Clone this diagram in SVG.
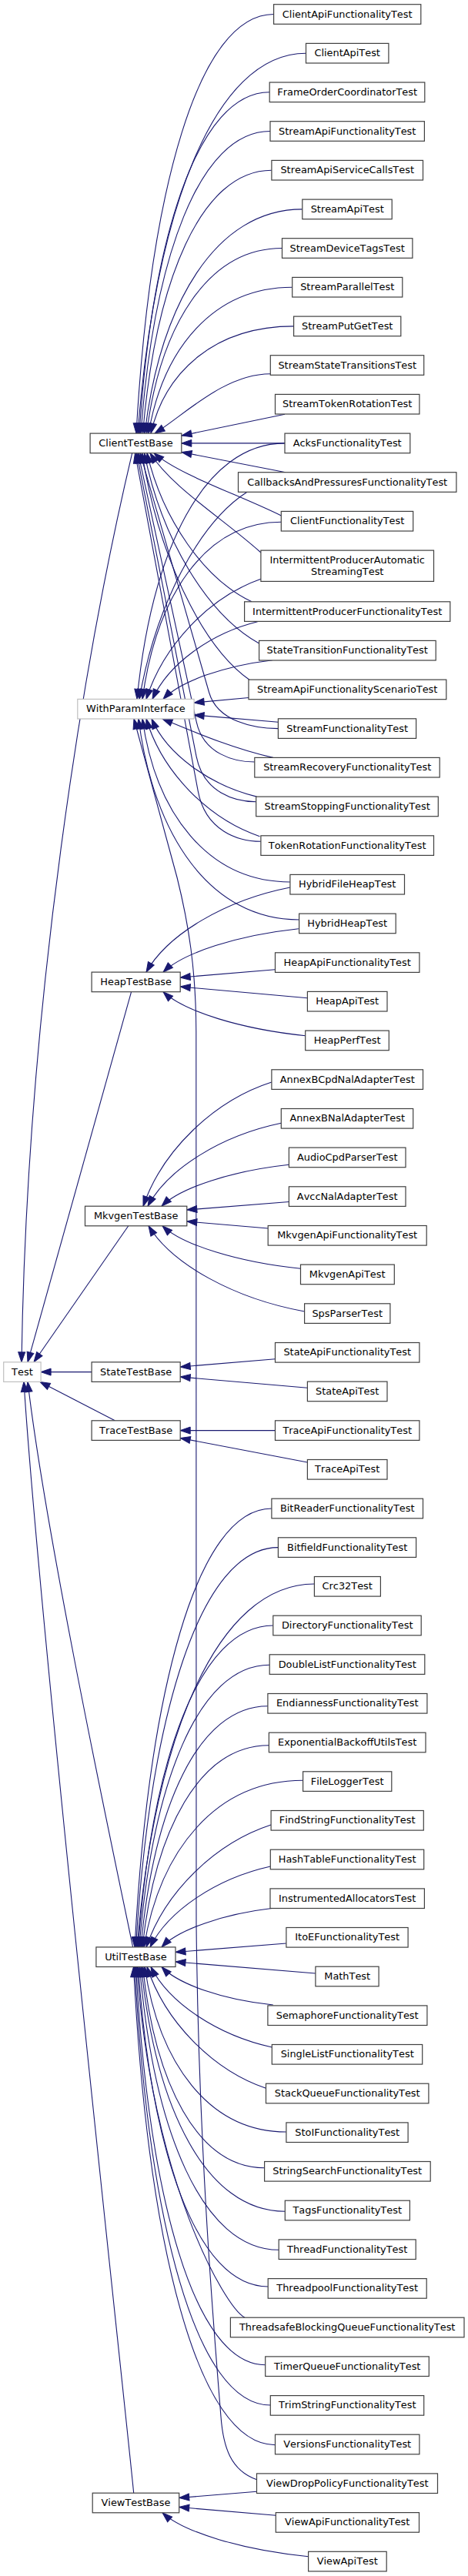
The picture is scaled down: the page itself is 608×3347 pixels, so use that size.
<svg xmlns="http://www.w3.org/2000/svg" width="608" height="3347" viewBox="0 0 608 3347">
<style>
.n rect{fill:#fff;stroke:#404040;stroke-width:1.2}
.g rect{fill:#fff;stroke:#bfbfbf;stroke-width:1.2}
text{font-family:"DejaVu Sans","Liberation Sans",sans-serif;font-size:12.9px;text-anchor:middle;fill:#000;font-kerning:none}
#edges path{fill:none;stroke:#191970;stroke-width:1.1;marker-end:url(#a)}
</style>
<defs>
<marker id="a" markerUnits="userSpaceOnUse" markerWidth="16" markerHeight="12" refX="13" refY="4.5" orient="auto" overflow="visible"><path d="M0,0 L13,4.5 L0,9 z" fill="#191970" stroke="#191970" stroke-width="1"/></marker>
</defs>
<rect width="608" height="3347" fill="#fff"/>
<g id="edges">
<path d="M355.6,18.5 C257.4,18.5 194.9,247.2 177,563.1"/>
<path d="M397.5,69.2 C277.3,69.2 200.9,276.6 179,563.1"/>
<path d="M350.2,119.8 C257.1,119.8 197.9,306 181,563.1"/>
<path d="M351,170.5 C258.6,170.5 199.8,335.4 183,563.1"/>
<path d="M352.9,221.2 C260.8,221.2 202.2,364.8 185.5,563.1"/>
<path d="M392.8,271.9 C280.2,271.9 208.5,394.2 188,563.1"/>
<path d="M366.5,322.5 C269.7,322.5 208.1,423.6 190.5,563.1"/>
<path d="M379.7,373.2 C277,373.2 211.7,453 193,563.1"/>
<path d="M381.6,423.9 C279.5,423.9 214.6,482.4 196,563.1"/>
<path d="M351.3,485.7 C291.2,485.7 238.6,539.9 201,563.1"/>
<path d="M370,538.3 L236,566"/>
<path d="M370,575.9 L235.8,575.9"/>
<path d="M371,613.7 L236,587.5"/>
<path d="M365.3,670 C307.4,641.5 233.1,617.2 200,588.7"/>
<path d="M339,718 C288.6,672.7 223.8,633.9 195,588.7"/>
<path d="M327,781.8 C265.8,752.8 211.4,675.6 191,588.7"/>
<path d="M336.6,836 C269.5,798.9 209.9,700 187.5,588.7"/>
<path d="M325,884 C261.8,839.7 205.6,721.6 184.5,588.7"/>
<path d="M361.4,946.6 C330,946.6 282.5,937.4 271.7,900 L182,588.7"/>
<path d="M330.8,990 C304.3,990 264.3,979.7 255.2,937.8 L179.5,588.7"/>
<path d="M332.7,1041.7 C305.5,1041.7 264.4,1030.1 255.1,982.8 L177.5,588.7"/>
<path d="M338.9,1093.3 C310.3,1093.3 267,1080.4 257.2,1027.7 L175.5,588.7"/>
<path d="M370,575.9 C264.4,575.9 197.2,715.5 178,908.4"/>
<path d="M321,639.3 C258,679.7 202,787.3 181,908.4"/>
<path d="M365.3,678.3 C266.1,678.3 203,774.9 185,908.4"/>
<path d="M338.9,752.3 C271.9,775.7 212.3,838.2 190,908.4"/>
<path d="M334.7,807.7 C273.2,822.8 218.5,863.1 198,908.4"/>
<path d="M354,857.7 C290.1,865.3 233.3,885.6 212,908.4"/>
<path d="M323,906.5 L252.1,913"/>
<path d="M361.4,938.3 L252.1,929"/>
<path d="M354.8,984.4 C300,972 250,950 211,934"/>
<path d="M333.5,1035.1 C271.6,1020 216.6,979.5 197,934"/>
<path d="M337.4,1086.7 C270.2,1063.8 210.4,1002.7 190,934"/>
<path d="M376.9,1146 C270.3,1146 202.4,1057 185,934"/>
<path d="M388.6,1195 C272.8,1195 199.1,1085.4 180,934"/>
<path d="M333.5,3221.7 C300,3210 290,3180 287,3140 C279,3040 258,2800 255,2500 L254.8,1340 C254.6,1260 245,1200 230,1140 L174,934"/>
<path d="M376.9,1153 C292.8,1169.5 218,1213.5 190,1263.1"/>
<path d="M387.8,1206.7 C308.7,1215.1 238.4,1237.8 212,1263.1"/>
<path d="M357.5,1259.7 L234.2,1270"/>
<path d="M399.4,1296.7 L234.2,1282"/>
<path d="M396.7,1345.7 C313.6,1337.1 239.7,1314.4 212,1288.7"/>
<path d="M352.9,1406 C277.8,1430.2 211,1494.7 186,1567.2"/>
<path d="M365.3,1459.3 C287.3,1475.5 218,1518.6 192,1567.2"/>
<path d="M375.4,1513.3 C301,1521.4 234.8,1543 210,1567.2"/>
<path d="M375.4,1561.5 L242.8,1572"/>
<path d="M348.2,1596 L242.8,1587"/>
<path d="M390.5,1648.3 C309.7,1640 237.9,1617.8 211,1592.8"/>
<path d="M395.6,1704 C304.4,1687.3 223.4,1642.8 193,1592.8"/>
<path d="M357.5,1765.7 L234.2,1776"/>
<path d="M399.4,1803.3 L234.2,1789"/>
<path d="M357.5,1858.6 L234.2,1858.6"/>
<path d="M399.4,1900 L234.2,1868.5"/>
<path d="M352.9,1960 C255.1,1960 192.8,2199.4 175,2529.9"/>
<path d="M361.4,2010.6 C259.7,2010.6 195,2228.7 176.5,2529.9"/>
<path d="M408.4,2058 C281.7,2058 201,2256.2 178,2529.9"/>
<path d="M354.8,2112 C258.4,2112 197,2287.5 179.5,2529.9"/>
<path d="M350.2,2163.3 C257.1,2163.3 197.9,2317.3 181,2529.9"/>
<path d="M347.9,2216.7 C257.2,2216.7 199.5,2348.2 183,2529.9"/>
<path d="M349.4,2267.7 C259,2267.7 201.4,2377.8 185,2529.9"/>
<path d="M393.6,2313.3 C280,2313.3 207.7,2404.3 187,2529.9"/>
<path d="M352.1,2371 C279.2,2394.8 214.3,2458.4 190,2529.9"/>
<path d="M351.3,2425 C281,2440.7 218.4,2482.7 195,2529.9"/>
<path d="M354.8,2479.3 C289.6,2486.9 231.7,2507.1 210,2529.9"/>
<path d="M371.9,2525 L228,2536.5"/>
<path d="M409.9,2564 L228,2549"/>
<path d="M354.8,2605 C289.6,2598.3 231.7,2578.2 210,2555.5"/>
<path d="M353.3,2660 C282.5,2644.3 219.6,2602.5 196,2555.5"/>
<path d="M345.5,2713.3 C276,2689.6 214.2,2626.5 191,2555.5"/>
<path d="M371.9,2770 C270.8,2770 206.4,2679.9 188,2555.5"/>
<path d="M343.6,2816.7 C256.6,2816.7 201.3,2707 185.5,2555.5"/>
<path d="M370.3,2873.3 C267.6,2873.3 202.2,2739.8 183.5,2555.5"/>
<path d="M362.2,2923.3 C262.8,2923.3 199.6,2768.8 181.5,2555.5"/>
<path d="M348.2,2971 C255.4,2971 196.4,2796.5 179.5,2555.5"/>
<path d="M318,3011.2 C292,2998 196,2830 178,2555.5"/>
<path d="M344.7,3072.7 C252.2,3072.7 193.3,2855.5 176.5,2555.5"/>
<path d="M351.3,3125 C254.3,3125 192.6,2885.8 175,2555.5"/>
<path d="M357.5,3176.7 C256.3,3176.7 191.9,2915.8 173.5,2555.5"/>
<path d="M333.5,3237.3 L232.7,3245.5"/>
<path d="M358.3,3268.3 L232.7,3257.5"/>
<path d="M400.6,3321.7 C315.3,3313.2 239.4,3290.4 211,3264.8"/>
<path d="M171.7,588.7 C110,850 35,1300 28,1769.8"/>
<path d="M170.6,1288.7 L36,1769.8"/>
<path d="M166.8,1592.8 L44,1769.8"/>
<path d="M119.1,1782.6 L53.1,1782.6"/>
<path d="M149.3,1845.8 L52,1795.4"/>
<path d="M172.6,2529.9 C150,2420 60,2000 36,1795.4"/>
<path d="M173.7,3239.2 C160,3100 50,2100 31,1795.4"/>
</g>
<g id="ClientTestBase" class="n"><rect x="117.1" y="563.1" width="118.7" height="25.6"/><text x="176.45" y="579.9">ClientTestBase</text></g>
<g id="WithParamInterface" class="g"><rect x="100.8" y="908.4" width="151.3" height="25.6"/><text x="176.45" y="925.2">WithParamInterface</text></g>
<g id="HeapTestBase" class="n"><rect x="119.1" y="1263.1" width="115.1" height="25.6"/><text x="176.65" y="1279.9">HeapTestBase</text></g>
<g id="MkvgenTestBase" class="n"><rect x="110.5" y="1567.2" width="132.3" height="25.6"/><text x="176.65" y="1584">MkvgenTestBase</text></g>
<g id="Test" class="g"><rect x="4.7" y="1769.8" width="48.4" height="25.6"/><text x="28.9" y="1786.6">Test</text></g>
<g id="StateTestBase" class="n"><rect x="119.1" y="1769.8" width="115.1" height="25.6"/><text x="176.65" y="1786.6">StateTestBase</text></g>
<g id="TraceTestBase" class="n"><rect x="119.1" y="1845.8" width="115.1" height="25.6"/><text x="176.65" y="1862.6">TraceTestBase</text></g>
<g id="UtilTestBase" class="n"><rect x="124.9" y="2529.9" width="103.1" height="25.6"/><text x="176.45" y="2546.7">UtilTestBase</text></g>
<g id="ViewTestBase" class="n"><rect x="120.2" y="3239.2" width="112.5" height="25.6"/><text x="176.45" y="3256">ViewTestBase</text></g>
<g id="n0" class="n"><rect x="355.6" y="5.7" width="191.2" height="25.6"/><text x="451.2" y="22.5">ClientApiFunctionalityTest</text></g>
<g id="n1" class="n"><rect x="397.5" y="56.4" width="107.4" height="25.6"/><text x="451.2" y="73.2">ClientApiTest</text></g>
<g id="n2" class="n"><rect x="350.2" y="107" width="201.6" height="25.6"/><text x="451.2" y="123.8">FrameOrderCoordinatorTest</text></g>
<g id="n3" class="n"><rect x="351" y="157.7" width="200.4" height="25.6"/><text x="451.2" y="174.5">StreamApiFunctionalityTest</text></g>
<g id="n4" class="n"><rect x="352.9" y="208.4" width="196.6" height="25.6"/><text x="451.2" y="225.2">StreamApiServiceCallsTest</text></g>
<g id="n5" class="n"><rect x="392.8" y="259.1" width="116.4" height="25.6"/><text x="451.2" y="275.9">StreamApiTest</text></g>
<g id="n6" class="n"><rect x="366.5" y="309.7" width="169.4" height="25.6"/><text x="451.2" y="326.5">StreamDeviceTagsTest</text></g>
<g id="n7" class="n"><rect x="379.7" y="360.4" width="143.1" height="25.6"/><text x="451.2" y="377.2">StreamParallelTest</text></g>
<g id="n8" class="n"><rect x="381.6" y="411.1" width="139.2" height="25.6"/><text x="451.2" y="427.9">StreamPutGetTest</text></g>
<g id="n9" class="n"><rect x="351.3" y="461.7" width="199.4" height="25.6"/><text x="451.2" y="478.5">StreamStateTransitionsTest</text></g>
<g id="n10" class="n"><rect x="357.5" y="512.4" width="187.4" height="25.6"/><text x="451.2" y="529.2">StreamTokenRotationTest</text></g>
<g id="n11" class="n"><rect x="370" y="563.1" width="162.8" height="25.6"/><text x="451.2" y="579.9">AcksFunctionalityTest</text></g>
<g id="n12" class="n"><rect x="309.5" y="613.7" width="283.4" height="25.6"/><text x="451.2" y="630.5">CallbacksAndPressuresFunctionalityTest</text></g>
<g id="n13" class="n"><rect x="365.3" y="664.4" width="171.4" height="25.6"/><text x="451.2" y="681.2">ClientFunctionalityTest</text></g>
<g id="n14" class="n"><rect x="338.9" y="715.1" width="224.6" height="40.3"/><text x="451.2" y="731.8">IntermittentProducerAutomatic</text><text x="451.2" y="747.3">StreamingTest</text></g>
<g id="n15" class="n"><rect x="317.6" y="781.8" width="267.2" height="25.6"/><text x="451.2" y="798.6">IntermittentProducerFunctionalityTest</text></g>
<g id="n16" class="n"><rect x="336.6" y="832.4" width="229.6" height="25.6"/><text x="451.2" y="849.2">StateTransitionFunctionalityTest</text></g>
<g id="n17" class="n"><rect x="323" y="883.1" width="256.8" height="25.6"/><text x="451.2" y="899.9">StreamApiFunctionalityScenarioTest</text></g>
<g id="n18" class="n"><rect x="361.4" y="933.8" width="179.2" height="25.6"/><text x="451.2" y="950.6">StreamFunctionalityTest</text></g>
<g id="n19" class="n"><rect x="330.8" y="984.4" width="240.4" height="25.6"/><text x="451.2" y="1001.2">StreamRecoveryFunctionalityTest</text></g>
<g id="n20" class="n"><rect x="332.7" y="1035.1" width="236.6" height="25.6"/><text x="451.2" y="1051.9">StreamStoppingFunctionalityTest</text></g>
<g id="n21" class="n"><rect x="338.9" y="1085.8" width="224.6" height="25.6"/><text x="451.2" y="1102.6">TokenRotationFunctionalityTest</text></g>
<g id="n22" class="n"><rect x="376.9" y="1136.4" width="148.6" height="25.6"/><text x="451.2" y="1153.2">HybridFileHeapTest</text></g>
<g id="n23" class="n"><rect x="388.6" y="1187.1" width="125.6" height="25.6"/><text x="451.2" y="1203.9">HybridHeapTest</text></g>
<g id="n24" class="n"><rect x="357.5" y="1237.8" width="187.4" height="25.6"/><text x="451.2" y="1254.6">HeapApiFunctionalityTest</text></g>
<g id="n25" class="n"><rect x="399.4" y="1288.4" width="103.6" height="25.6"/><text x="451.2" y="1305.2">HeapApiTest</text></g>
<g id="n26" class="n"><rect x="396.7" y="1339.1" width="108.6" height="25.6"/><text x="451.2" y="1355.9">HeapPerfTest</text></g>
<g id="n27" class="n"><rect x="352.9" y="1389.8" width="196.6" height="25.6"/><text x="451.2" y="1406.6">AnnexBCpdNalAdapterTest</text></g>
<g id="n28" class="n"><rect x="365.3" y="1440.5" width="171.4" height="25.6"/><text x="451.2" y="1457.3">AnnexBNalAdapterTest</text></g>
<g id="n29" class="n"><rect x="375.4" y="1491.1" width="151.6" height="25.6"/><text x="451.2" y="1507.9">AudioCpdParserTest</text></g>
<g id="n30" class="n"><rect x="375.4" y="1541.8" width="151.6" height="25.6"/><text x="451.2" y="1558.6">AvccNalAdapterTest</text></g>
<g id="n31" class="n"><rect x="348.2" y="1592.5" width="206" height="25.6"/><text x="451.2" y="1609.3">MkvgenApiFunctionalityTest</text></g>
<g id="n32" class="n"><rect x="390.5" y="1643.1" width="121.8" height="25.6"/><text x="451.2" y="1659.9">MkvgenApiTest</text></g>
<g id="n33" class="n"><rect x="395.6" y="1693.8" width="111.3" height="25.6"/><text x="451.2" y="1710.6">SpsParserTest</text></g>
<g id="n34" class="n"><rect x="357.5" y="1744.5" width="187.4" height="25.6"/><text x="451.2" y="1761.3">StateApiFunctionalityTest</text></g>
<g id="n35" class="n"><rect x="399.4" y="1795.1" width="103.6" height="25.6"/><text x="451.2" y="1811.9">StateApiTest</text></g>
<g id="n36" class="n"><rect x="357.5" y="1845.8" width="187.4" height="25.6"/><text x="451.2" y="1862.6">TraceApiFunctionalityTest</text></g>
<g id="n37" class="n"><rect x="399.4" y="1896.5" width="103.6" height="25.6"/><text x="451.2" y="1913.3">TraceApiTest</text></g>
<g id="n38" class="n"><rect x="352.9" y="1947.2" width="196.6" height="25.6"/><text x="451.2" y="1964">BitReaderFunctionalityTest</text></g>
<g id="n39" class="n"><rect x="361.4" y="1997.8" width="179.2" height="25.6"/><text x="451.2" y="2014.6">BitfieldFunctionalityTest</text></g>
<g id="n40" class="n"><rect x="408.4" y="2048.5" width="86" height="25.6"/><text x="451.2" y="2065.3">Crc32Test</text></g>
<g id="n41" class="n"><rect x="354.8" y="2099.2" width="192.4" height="25.6"/><text x="451.2" y="2116">DirectoryFunctionalityTest</text></g>
<g id="n42" class="n"><rect x="350.2" y="2149.8" width="201.6" height="25.6"/><text x="451.2" y="2166.6">DoubleListFunctionalityTest</text></g>
<g id="n43" class="n"><rect x="347.9" y="2200.5" width="207" height="25.6"/><text x="451.2" y="2217.3">EndiannessFunctionalityTest</text></g>
<g id="n44" class="n"><rect x="349.4" y="2251.2" width="203.6" height="25.6"/><text x="451.2" y="2268">ExponentialBackoffUtilsTest</text></g>
<g id="n45" class="n"><rect x="393.6" y="2301.8" width="115.2" height="25.6"/><text x="451.2" y="2318.6">FileLoggerTest</text></g>
<g id="n46" class="n"><rect x="352.1" y="2352.5" width="198.2" height="25.6"/><text x="451.2" y="2369.3">FindStringFunctionalityTest</text></g>
<g id="n47" class="n"><rect x="351.3" y="2403.2" width="199.4" height="25.6"/><text x="451.2" y="2420">HashTableFunctionalityTest</text></g>
<g id="n48" class="n"><rect x="351" y="2453.9" width="200.4" height="25.6"/><text x="451.2" y="2470.7">InstrumentedAllocatorsTest</text></g>
<g id="n49" class="n"><rect x="371.9" y="2504.5" width="158.2" height="25.6"/><text x="451.2" y="2521.3">ItoEFunctionalityTest</text></g>
<g id="n50" class="n"><rect x="409.9" y="2555.2" width="82.2" height="25.6"/><text x="451.2" y="2572">MathTest</text></g>
<g id="n51" class="n"><rect x="347.9" y="2605.9" width="207" height="25.6"/><text x="451.2" y="2622.7">SemaphoreFunctionalityTest</text></g>
<g id="n52" class="n"><rect x="353.3" y="2656.5" width="195.4" height="25.6"/><text x="451.2" y="2673.3">SingleListFunctionalityTest</text></g>
<g id="n53" class="n"><rect x="345.5" y="2707.2" width="211.4" height="25.6"/><text x="451.2" y="2724">StackQueueFunctionalityTest</text></g>
<g id="n54" class="n"><rect x="371.9" y="2757.9" width="158.2" height="25.6"/><text x="451.2" y="2774.7">StoIFunctionalityTest</text></g>
<g id="n55" class="n"><rect x="343.6" y="2808.5" width="215.6" height="25.6"/><text x="451.2" y="2825.3">StringSearchFunctionalityTest</text></g>
<g id="n56" class="n"><rect x="370.3" y="2859.2" width="162.1" height="25.6"/><text x="451.2" y="2876">TagsFunctionalityTest</text></g>
<g id="n57" class="n"><rect x="362.2" y="2909.9" width="178" height="25.6"/><text x="451.2" y="2926.7">ThreadFunctionalityTest</text></g>
<g id="n58" class="n"><rect x="348.2" y="2960.6" width="206" height="25.6"/><text x="451.2" y="2977.4">ThreadpoolFunctionalityTest</text></g>
<g id="n59" class="n"><rect x="299.4" y="3011.2" width="303.6" height="25.6"/><text x="451.2" y="3028">ThreadsafeBlockingQueueFunctionalityTest</text></g>
<g id="n60" class="n"><rect x="344.7" y="3061.9" width="212.6" height="25.6"/><text x="451.2" y="3078.7">TimerQueueFunctionalityTest</text></g>
<g id="n61" class="n"><rect x="351.3" y="3112.6" width="199.4" height="25.6"/><text x="451.2" y="3129.4">TrimStringFunctionalityTest</text></g>
<g id="n62" class="n"><rect x="357.5" y="3163.2" width="187.4" height="25.6"/><text x="451.2" y="3180">VersionsFunctionalityTest</text></g>
<g id="n63" class="n"><rect x="333.5" y="3213.9" width="235" height="25.6"/><text x="451.2" y="3230.7">ViewDropPolicyFunctionalityTest</text></g>
<g id="n64" class="n"><rect x="358.3" y="3264.6" width="186.2" height="25.6"/><text x="451.2" y="3281.4">ViewApiFunctionalityTest</text></g>
<g id="n65" class="n"><rect x="400.6" y="3315.3" width="101.6" height="25.6"/><text x="451.2" y="3332.1">ViewApiTest</text></g>
</svg>
